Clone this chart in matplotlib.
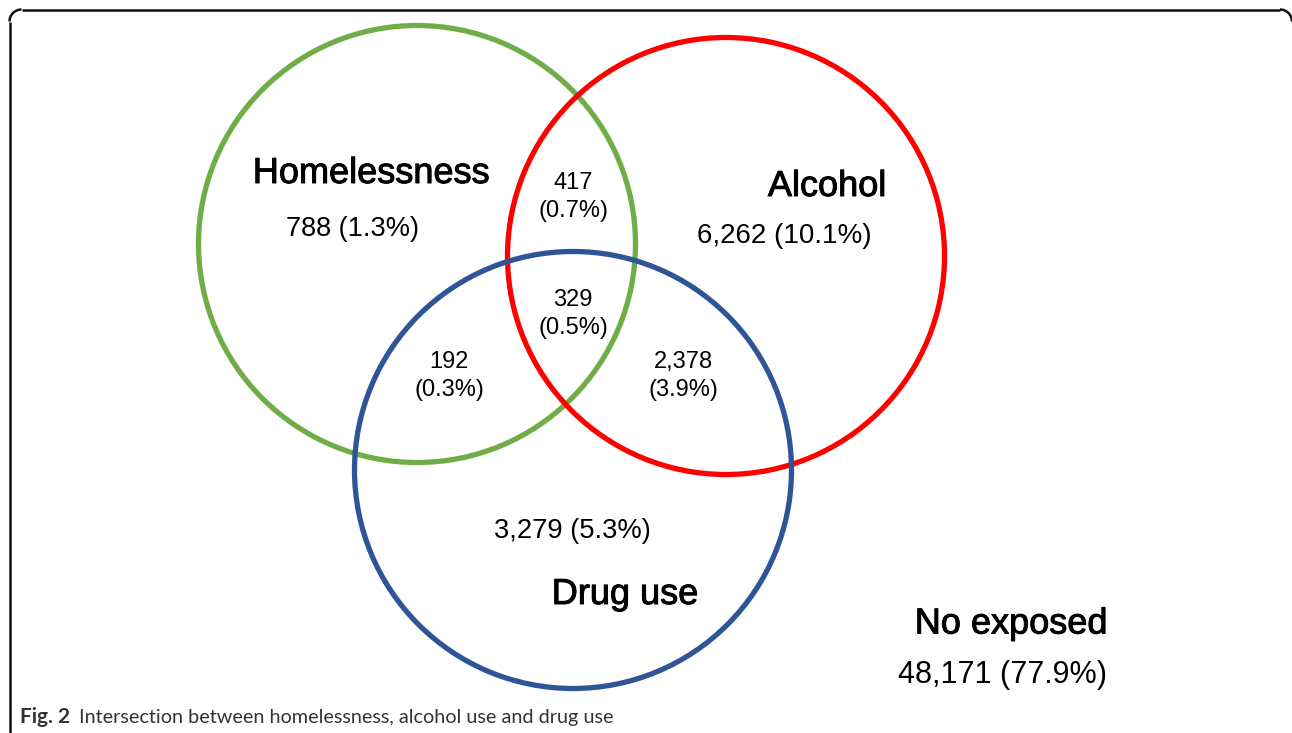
import matplotlib.pyplot as plt
import matplotlib.patheffects as pe
from matplotlib.patches import Circle, Arc

# set names and region counts
set_names = ["Homelessness", "Alcohol", "Drug use"]
set_colors = ["#70AD47", "#FF0000", "#2F5597"]

regions = ["H", "HA", "A", "HAD", "HD", "AD", "D", "none"]
counts = [788, 417, 6262, 329, 192, 2378, 3279, 48171]
percents = [1.3, 0.7, 10.1, 0.5, 0.3, 3.9, 5.3, 77.9]

# layout (pixel space of the figure)
centers = [(417, 244), (726, 256), (573, 470)]
radius = 218.5
name_pos = [(371, 173.5), (827, 186.5), (625, 594.5)]
region_pos = {
    "H": (353, 229, 1), "HA": (573, 197, 2), "A": (784, 236, 1),
    "HAD": (573, 314, 2), "HD": (449, 376, 2), "AD": (683, 376, 2),
    "D": (572, 531, 1), "none": (1003, 675, 1),
}
region_size = {"H": 19.5, "A": 20, "D": 19.7, "none": 22}

plt.rcParams['font.family'] = ['Liberation Sans', 'DejaVu Sans']

fig = plt.figure(figsize=(12.92, 7.33), dpi=100)
ax = fig.add_axes([0, 0, 1, 1])
ax.set_xlim(0, 1292)
ax.set_ylim(733, 0)
ax.axis('off')

# frame: only the top and left edges show, with rounded corners
fc = "#111111"
flw = 1.8
rr = 12
ax.plot([9.5, 9.5], [9.5 + rr, 733], color=fc, lw=flw, solid_capstyle='butt')
ax.plot([9.5 + rr, 1280], [9.5, 9.5], color=fc, lw=flw, solid_capstyle='butt')
ax.add_patch(Arc((9.5 + rr, 9.5 + rr), 2 * rr, 2 * rr, theta1=180, theta2=270, color=fc, lw=flw))
ax.add_patch(Arc((1280, 9.5 + rr), 2 * rr, 2 * rr, theta1=270, theta2=360, color=fc, lw=flw))

for (cx, cy), col in zip(centers, set_colors):
    ax.add_patch(Circle((cx, cy), radius, fill=False, ec=col, lw=3.8))

heavy = [pe.withStroke(linewidth=0.7, foreground='black')]
for name, (x, y) in zip(set_names, name_pos):
    ax.text(x, y, name, fontsize=26, ha='center', va='center', color='black',
            path_effects=heavy)

ax.text(1011, 624, "No exposed", fontsize=26, ha='center', va='center', color='black',
        path_effects=heavy)

for r, n, p in zip(regions, counts, percents):
    x, y, lines = region_pos[r]
    if lines == 2:
        label = "{:,}\n({}%)".format(n, p)
        ax.text(x, y, label, fontsize=17, ha='center', va='center',
                linespacing=1.35, color='black')
    else:
        label = "{:,} ({}%)".format(n, p)
        ax.text(x, y, label, fontsize=region_size[r], ha='center', va='center', color='black')

ax.text(20, 717, "Fig. 2", fontsize=15, fontweight='bold', family='Lato',
        ha='left', va='center', color='#333333')
ax.text(79, 718, "Intersection between homelessness, alcohol use and drug use",
        fontsize=14.3, family='Lato', ha='left', va='center', color='#333333')

fig.savefig("out.png", dpi=100)
